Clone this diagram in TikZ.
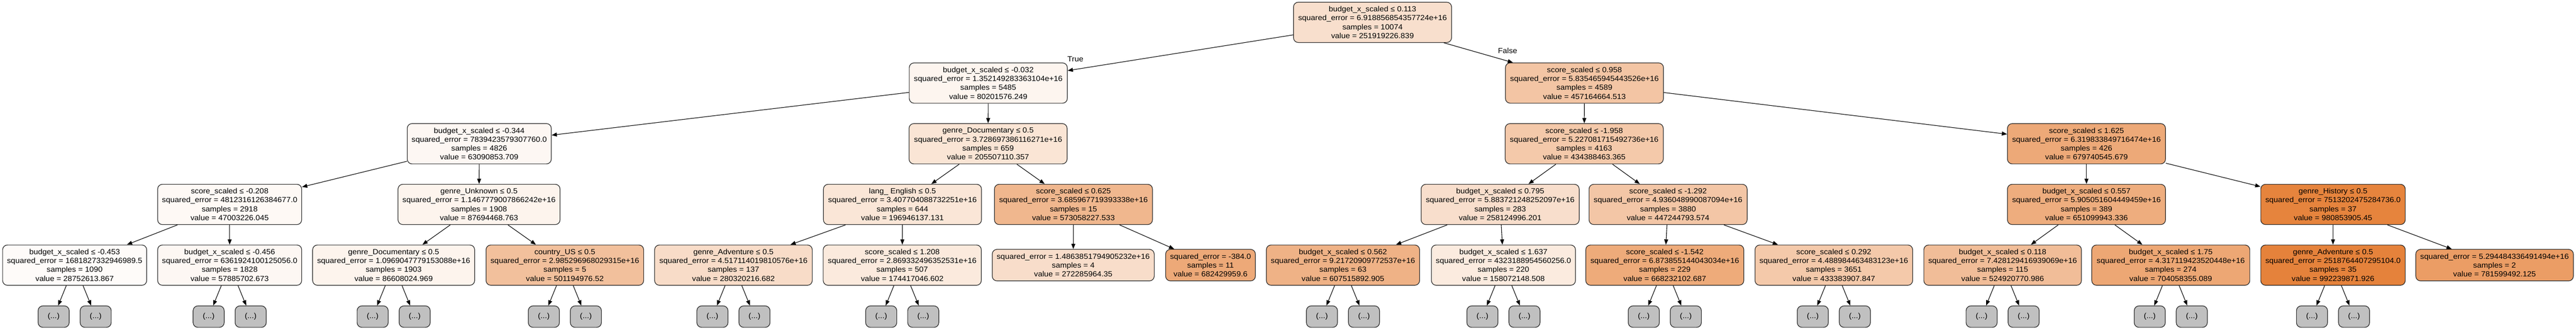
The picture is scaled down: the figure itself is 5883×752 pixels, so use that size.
\documentclass[tikz,border=0pt]{standalone}
\usepackage{fontspec}
\setmainfont{Liberation Sans}[FakeStretch=1.066]
\usetikzlibrary{arrows.meta}
\definecolor{skl}{HTML}{E58139}
\definecolor{boxgray}{HTML}{C0C0C0}
\begin{document}
\begin{tikzpicture}[x=1pt,y=-1pt,
  base/.style={draw=black!85, line width=1.4pt, rounded corners=11pt, inner sep=0pt, align=center, font=\fontsize{16.9}{20.3}\selectfont},
  tn/.style 2 args={base, fill=skl!#1, minimum width=#2pt, minimum height=92pt},
  lf/.style 2 args={base, fill=skl!#1, minimum width=#2pt, minimum height=72pt},
  more/.style={base, fill=boxgray, minimum width=71pt, minimum height=49pt},
  edge/.style={draw=black, line width=1.3pt, -{Triangle[length=12pt,width=9pt]}},
  lbl/.style={font=\fontsize{16.9}{20.3}\selectfont, inner sep=0pt}]
\fill[white] (0,0) rectangle (5883,752);
\useasboundingbox (0,0) rectangle (5883,752);
% level 0
\node[tn={25}{361}] (r) at (3134.5,51) {budget\_x\_scaled ≤ 0.113\\squared\_error = 6.918856854357724e+16\\samples = 10074\\value = 251919226.839};
% level 1
\node[tn={8}{361}] (L1L) at (2257,189.5) {budget\_x\_scaled ≤ -0.032\\squared\_error = 1.352149283363104e+16\\samples = 5485\\value = 80201576.249};
\node[tn={46}{361}] (L1R) at (3618.5,189.5) {score\_scaled ≤ 0.958\\squared\_error = 5.835465945443526e+16\\samples = 4589\\value = 457164664.513};
% level 2
\node[tn={6}{329}] (L2a) at (1094.5,328) {budget\_x\_scaled ≤ -0.344\\squared\_error = 7839423579307760.0\\samples = 4826\\value = 63090853.709};
\node[tn={21}{361}] (L2b) at (2256.5,328) {genre\_Documentary ≤ 0.5\\squared\_error = 3.728697386116271e+16\\samples = 659\\value = 205507110.357};
\node[tn={43}{361}] (L2c) at (3618,328) {score\_scaled ≤ -1.958\\squared\_error = 5.227081715492736e+16\\samples = 4163\\value = 434388463.365};
\node[tn={68}{361}] (L2d) at (4765,328) {score\_scaled ≤ 1.625\\squared\_error = 6.319833849716474e+16\\samples = 426\\value = 679740545.679};
% level 3
\node[tn={5}{329}] (L3a) at (524.5,466.5) {score\_scaled ≤ -0.208\\squared\_error = 4812316126384677.0\\samples = 2918\\value = 47003226.045};
\node[tn={9}{370}] (L3b) at (1094,466.5) {genre\_Unknown ≤ 0.5\\squared\_error = 1.1467779007866242e+16\\samples = 1908\\value = 87694468.763};
\node[tn={20}{361}] (L3c) at (2061,466.5) {lang\_ English ≤ 0.5\\squared\_error = 3.407704088732251e+16\\samples = 644\\value = 196946137.131};
\node[tn={57}{361}] (L3d) at (2451.5,466.5) {score\_scaled ≤ 0.625\\squared\_error = 3.685967719393338e+16\\samples = 15\\value = 573058227.533};
\node[tn={26}{361}] (L3e) at (3426,466.5) {budget\_x\_scaled ≤ 0.795\\squared\_error = 5.883721248252097e+16\\samples = 283\\value = 258124996.201};
\node[tn={45}{361}] (L3f) at (3809.5,466.5) {score\_scaled ≤ -1.292\\squared\_error = 4.936048990087094e+16\\samples = 3880\\value = 447244793.574};
\node[tn={65}{361}] (L3g) at (4765,466.5) {budget\_x\_scaled ≤ 0.557\\squared\_error = 5.905051604449459e+16\\samples = 389\\value = 651099943.336};
\node[tn={98}{330}] (L3h) at (5328,466.5) {genre\_History ≤ 0.5\\squared\_error = 7513202475284736.0\\samples = 37\\value = 980853905.45};
% level 4
\node[tn={3}{329}] (L4a) at (170.5,605) {budget\_x\_scaled ≤ -0.453\\squared\_error = 1681827332946989.5\\samples = 1090\\value = 28752613.867};
\node[tn={6}{329}] (L4b) at (524.5,605) {budget\_x\_scaled ≤ -0.456\\squared\_error = 6361924100125056.0\\samples = 1828\\value = 57885702.673};
\node[tn={9}{370}] (L4c) at (899,605) {genre\_Documentary ≤ 0.5\\squared\_error = 1.0969047779153088e+16\\samples = 1903\\value = 86608024.969};
\node[tn={50}{360}] (L4d) at (1290,605) {country\_US ≤ 0.5\\squared\_error = 2.985296968029315e+16\\samples = 5\\value = 501194976.52};
\node[tn={28}{360}] (L4e) at (1675,605) {genre\_Adventure ≤ 0.5\\squared\_error = 4.517114019810576e+16\\samples = 137\\value = 280320216.682};
\node[tn={17}{361}] (L4f) at (2060.5,605) {score\_scaled ≤ 1.208\\squared\_error = 2.869332496352531e+16\\samples = 507\\value = 174417046.602};
\node[lf={27}{370}] (L4g) at (2451,605) {squared\_error = 1.4863851794905232e+16\\samples = 4\\value = 272285964.35};
\node[lf={68}{205}] (L4h) at (2764.5,605) {squared\_error = -384.0\\samples = 11\\value = 682429959.6};
\node[tn={61}{350}] (L4i) at (3067,605) {budget\_x\_scaled ≤ 0.562\\squared\_error = 9.21720909772537e+16\\samples = 63\\value = 607515892.905};
\node[tn={16}{329}] (L4j) at (3433.5,605) {budget\_x\_scaled ≤ 1.637\\squared\_error = 4323188954560256.0\\samples = 220\\value = 158072148.508};
\node[tn={67}{361}] (L4k) at (3802,605) {score\_scaled ≤ -1.542\\squared\_error = 6.873855144043034e+16\\samples = 229\\value = 668232102.687};
\node[tn={43}{360}] (L4l) at (4188,605) {score\_scaled ≤ 0.292\\squared\_error = 4.488984463483123e+16\\samples = 3651\\value = 433383907.847};
\node[tn={52}{360}] (L4m) at (4573.5,605) {budget\_x\_scaled ≤ 0.118\\squared\_error = 7.428129416939069e+16\\samples = 115\\value = 524920770.986};
\node[tn={70}{361}] (L4n) at (4957.5,605) {budget\_x\_scaled ≤ 1.75\\squared\_error = 4.317119423520448e+16\\samples = 274\\value = 704058355.089};
\node[tn={99}{330}] (L4o) at (5328,605) {genre\_Adventure ≤ 0.5\\squared\_error = 2518764407295104.0\\samples = 35\\value = 992239871.926};
\node[lf={78}{360}] (L4p) at (5697,605) {squared\_error = 5.294484336491494e+16\\samples = 2\\value = 781599492.125};
% edges
\draw[edge] (r) -- (L1L);
\draw[edge] (r) -- (L1R);
\node[lbl] (tlab) at (2456,135) {True};
\node[lbl] (flab) at (3443,116) {False};
\draw[edge] (L1L) -- (L2a);
\draw[edge] (L1L) -- (L2b);
\draw[edge] (L1R) -- (L2c);
\draw[edge] (L1R) -- (L2d);
\draw[edge] (L2a) -- (L3a);
\draw[edge] (L2a) -- (L3b);
\draw[edge] (L2b) -- (L3c);
\draw[edge] (L2b) -- (L3d);
\draw[edge] (L2c) -- (L3e);
\draw[edge] (L2c) -- (L3f);
\draw[edge] (L2d) -- (L3g);
\draw[edge] (L2d) -- (L3h);
\draw[edge] (L3a) -- (L4a);
\draw[edge] (L3a) -- (L4b);
\draw[edge] (L3b) -- (L4c);
\draw[edge] (L3b) -- (L4d);
\draw[edge] (L3c) -- (L4e);
\draw[edge] (L3c) -- (L4f);
\draw[edge] (L3d) -- (L4g);
\draw[edge] (L3d) -- (L4h);
\draw[edge] (L3e) -- (L4i);
\draw[edge] (L3e) -- (L4j);
\draw[edge] (L3f) -- (L4k);
\draw[edge] (L3f) -- (L4l);
\draw[edge] (L3g) -- (L4m);
\draw[edge] (L3g) -- (L4n);
\draw[edge] (L3h) -- (L4o);
\draw[edge] (L3h) -- (L4p);
% truncated subtrees
\foreach \n/\c in {L4a/170.5,L4b/524.5,L4c/899,L4d/1290,L4e/1675,L4f/2060.5,L4i/3067,L4j/3433.5,L4k/3802,L4l/4188,L4m/4573.5,L4n/4957.5,L4o/5328}{
  \node[more] (\n-l) at (\c-48,722.5) {(...)};
  \node[more] (\n-r) at (\c+48,722.5) {(...)};
  \draw[edge] (\n) -- (\n-l);
  \draw[edge] (\n) -- (\n-r);
}
\end{tikzpicture}
\end{document}
